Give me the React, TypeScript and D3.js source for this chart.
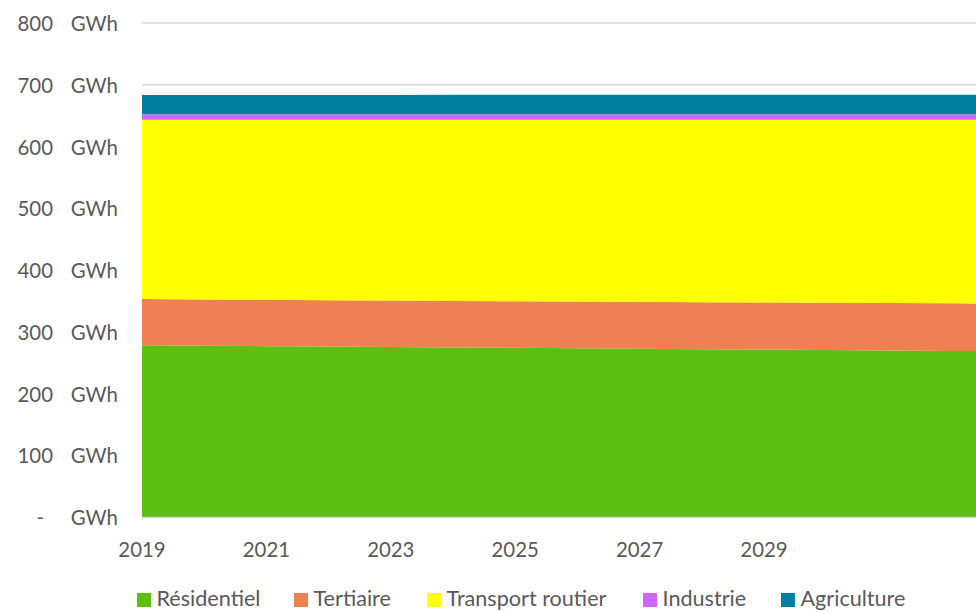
import React from "react";
import * as d3 from "d3";

const years = [2019, 2020, 2021, 2022, 2023, 2024, 2025, 2026, 2027, 2028, 2029, 2030, 2031, 2032, 2033];
const residentiel = [278.1, 277.4, 276.7, 276.0, 275.3, 274.6, 273.9, 273.2, 272.5, 271.8, 271.1, 270.4, 269.7, 269.0, 268.3];
const tertiaire = [74.8, 74.9, 75.0, 75.1, 75.2, 75.3, 75.5, 75.7, 75.9, 76.1, 76.3, 76.5, 76.8, 77.1, 77.4];
const transport = [290.5, 291.1, 291.7, 292.3, 292.9, 293.5, 294.0, 294.5, 295.0, 295.5, 296.0, 296.5, 296.9, 297.3, 297.7];
const industrie = [8.8, 8.8, 8.8, 8.8, 8.8, 8.8, 8.8, 8.8, 8.8, 8.8, 8.8, 8.8, 8.8, 8.8, 8.8];
const agriculture = [31.3, 31.3, 31.4, 31.4, 31.4, 31.5, 31.5, 31.5, 31.6, 31.6, 31.6, 31.7, 31.7, 31.8, 31.8];

const seriesNames = ["Résidentiel", "Tertiaire", "Transport routier", "Industrie", "Agriculture"];
const seriesValues = [residentiel, tertiaire, transport, industrie, agriculture];
const colors = ["#5DBF12", "#EE8052", "#FFFF00", "#CC66FF", "#00809F"];
const yTicks = [0, 100, 200, 300, 400, 500, 600, 700, 800];
const xTicks = [2019, 2021, 2023, 2025, 2027, 2029];

export default function App() {
  const W = 976;
  const H = 612;
  const left = 142;
  const right = 976;
  const x = d3.scaleLinear().domain([2019, 2019 + (right - left) / 62.2]).range([left, right]);
  const y = d3.scaleLinear().domain([0, 800]).range([517, 23]);

  const rows = years.map((yr, i) => {
    const r: any = { year: yr };
    seriesNames.forEach((n, k) => (r[n] = seriesValues[k][i]));
    return r;
  });
  const stack = d3.stack<any>().keys(seriesNames);
  const stacked = stack(rows);
  const area = d3
    .area<any>()
    .x((d) => x(d.data.year))
    .y0((d) => y(d[0]))
    .y1((d) => y(d[1]));

  const font = "Lato, 'Open Sans', sans-serif";
  const textColor = "#595959";
  const axisSize = 20.4;
  const legendSize = 21.6;

  const legendX = [137, 294, 427, 643, 781];

  return (
    <svg width={W} height={H} style={{ position: "absolute", left: 0, top: 0, display: "block" }} fontFamily={font}>
      <rect width={W} height={H} fill="#fff" />
      <defs>
        <clipPath id="plotclip">
          <rect x={left} y={0} width={right - left} height={H} />
        </clipPath>
      </defs>
      {yTicks.map((t) => (
        <line key={"g" + t} x1={left} x2={right} y1={y(t)} y2={y(t)} stroke="#d9d9d9" strokeWidth={1.5} />
      ))}
      <g clipPath="url(#plotclip)">
        {stacked.map((s, k) => (
          <path key={s.key} d={area(s) || ""} fill={colors[k]} />
        ))}
      </g>
      <line x1={left} x2={right} y1={y(0) + 0.5} y2={y(0) + 0.5} stroke="#d9d9d9" strokeWidth={1.5} />
      {yTicks.map((t) => (
        <g key={"yl" + t} fill={textColor} fontSize={axisSize}>
          <text x={t === 0 ? 44 : 53} y={y(t)} textAnchor="end" dominantBaseline="central">
            {t === 0 ? "-" : d3.format("d")(t)}
          </text>
          <text x={118} y={y(t)} textAnchor="end" dominantBaseline="central">
            GWh
          </text>
        </g>
      ))}
      {xTicks.map((t) => (
        <text key={"xl" + t} x={x(t)} y={549} textAnchor="middle" dominantBaseline="central" fill={textColor} fontSize={axisSize}>
          {t}
        </text>
      ))}
      {seriesNames.map((n, k) => (
        <g key={"lg" + n}>
          <rect x={legendX[k]} y={593} width={14} height={14} fill={colors[k]} />
          <text x={legendX[k] + 19.5} y={606} fill={textColor} fontSize={legendSize}>
            {n}
          </text>
        </g>
      ))}
    </svg>
  );
}
